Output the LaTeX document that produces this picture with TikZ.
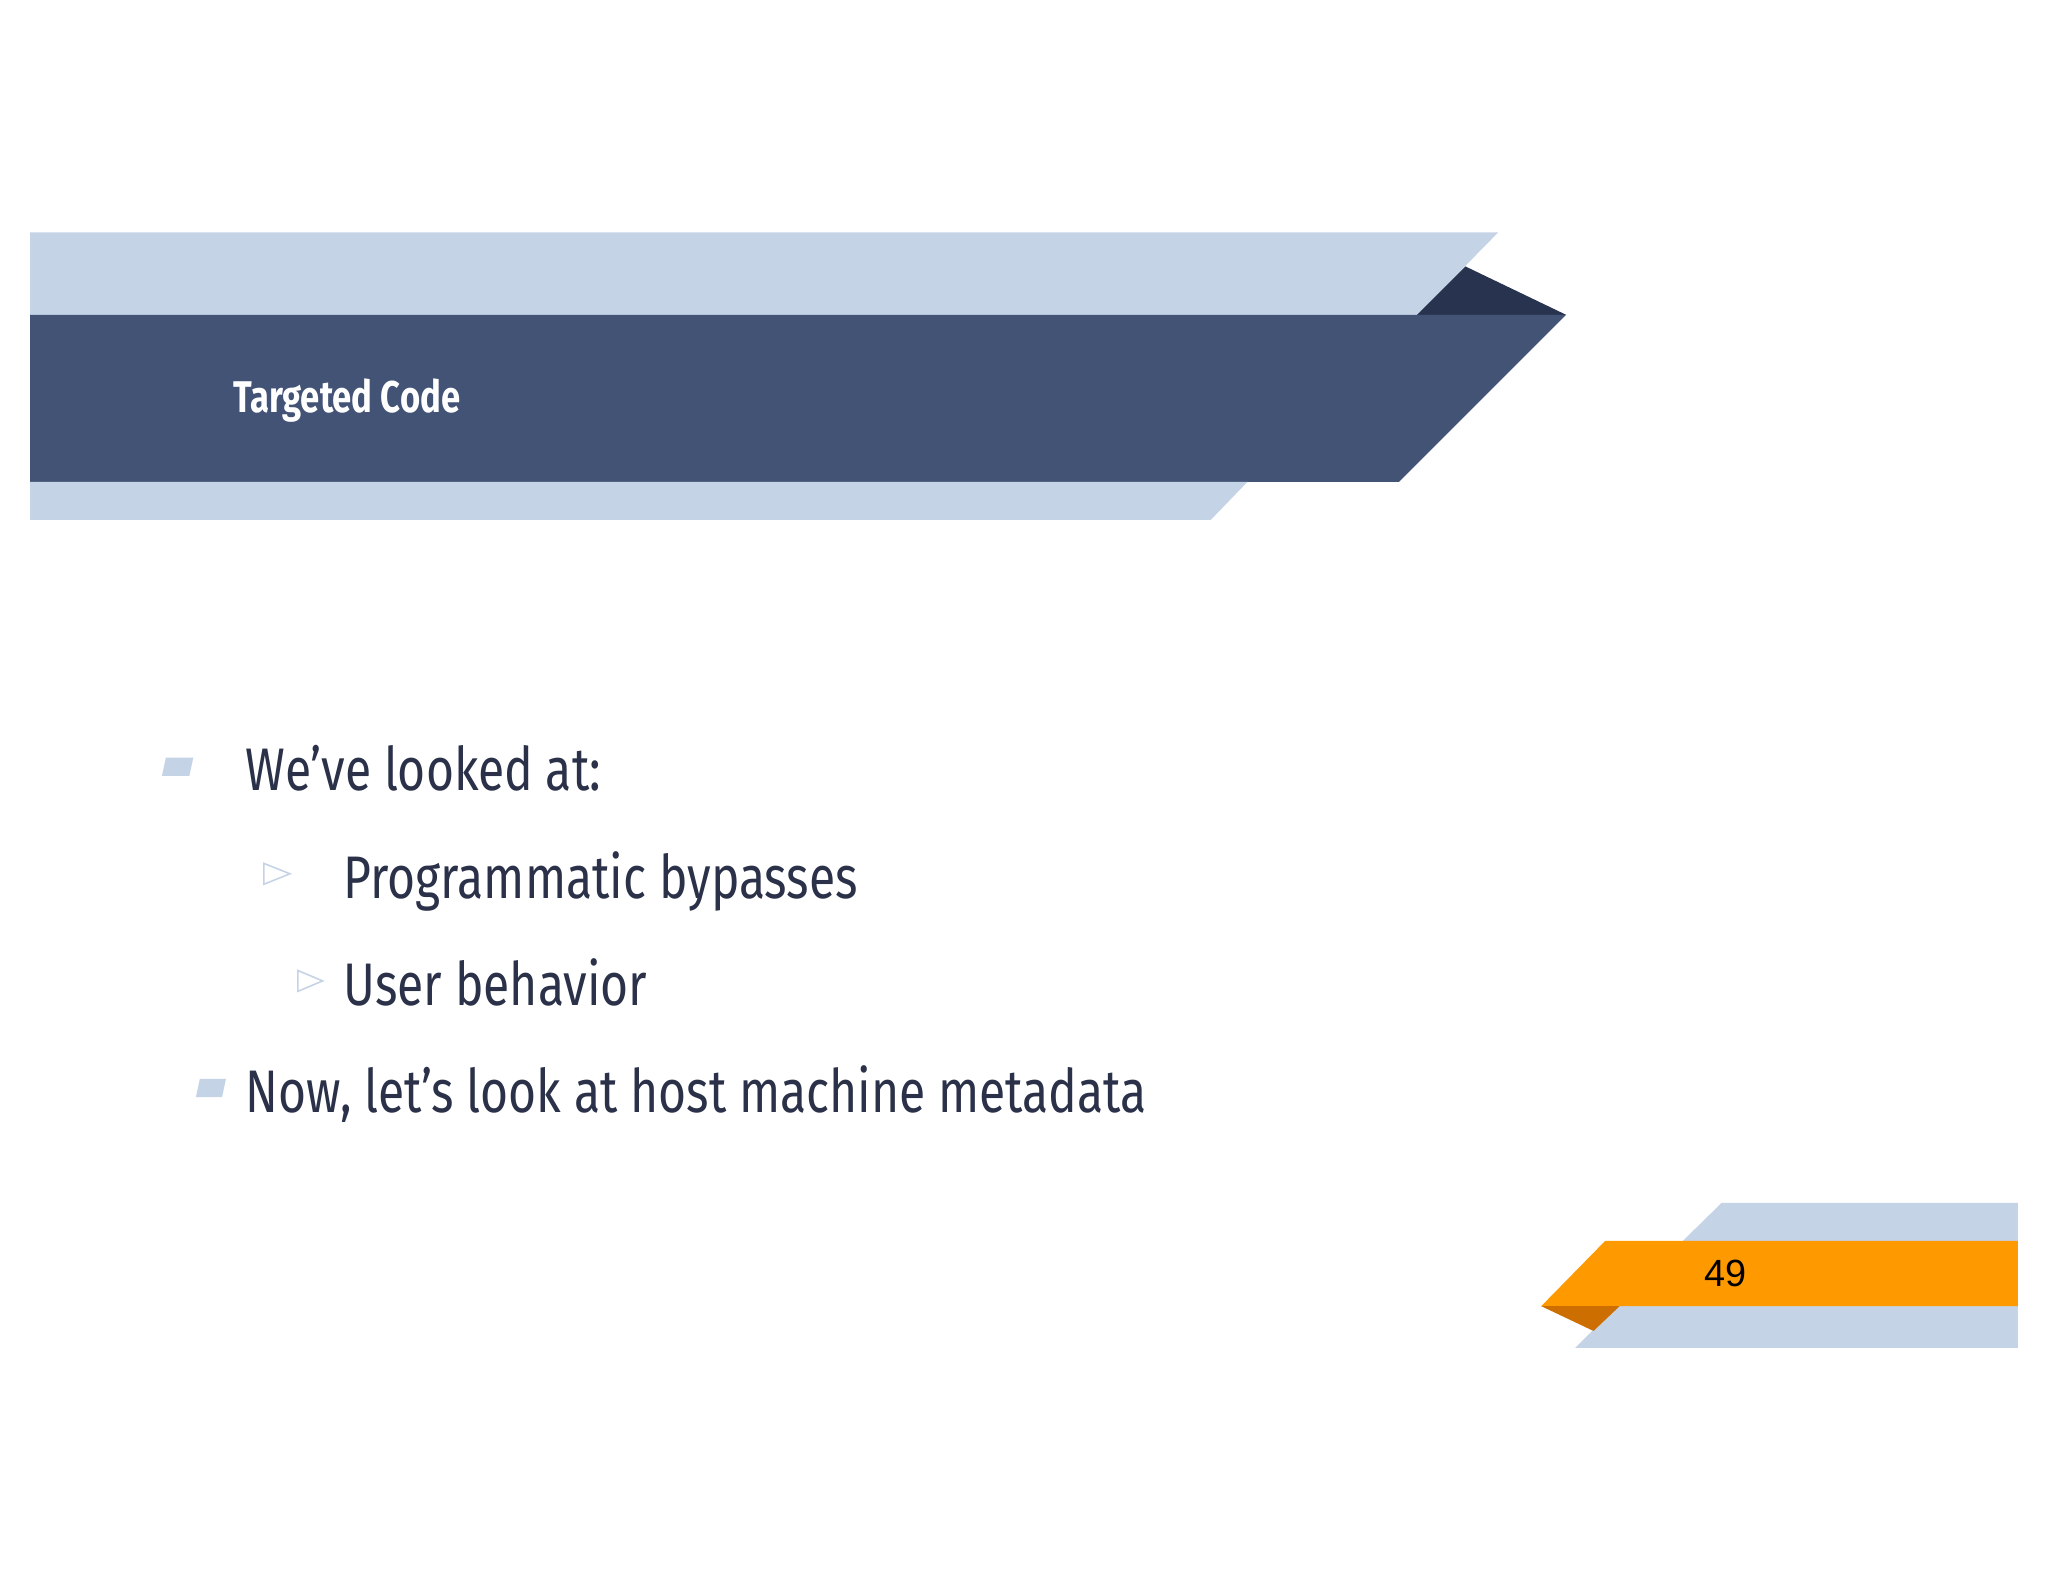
\documentclass[tikz,border=0pt]{standalone}
\usepackage{fontspec}
\setmainfont{Fira Sans}
\newfontfamily\condb[FakeStretch=0.78]{Fira Sans}
\newfontfamily\condl[FakeStretch=0.8]{Fira Sans}
\newfontfamily\num{Liberation Sans}
\definecolor{lightb}{HTML}{C5D3E6}
\definecolor{darkb}{HTML}{435376}
\definecolor{darker}{HTML}{283350}
\definecolor{txt}{HTML}{2A3148}
\definecolor{orng}{HTML}{FF9900}
\definecolor{dorng}{HTML}{CC6F00}
\begin{document}
\begin{tikzpicture}[x=1pt,y=-1pt,
  itm/.style={anchor=base west,inner sep=0pt,text=txt,font=\condl\fontsize{46}{50}\selectfont},
  tri/.style={draw=lightb,line width=1.2pt}]
\useasboundingbox (0,0) rectangle (1568,1211);
\fill[white] (0,0) rectangle (1568,1211);
% header
\fill[lightb] (23,178) -- (1147,178) -- (1085,241) -- (23,241) -- cycle;
\fill[darker] (1085,241) -- (1122,204) -- (1199,241) -- cycle;
\fill[darkb] (23,241) -- (1199,241) -- (1071,369) -- (23,369) -- cycle;
\fill[lightb] (23,369) -- (955,369) -- (927,398) -- (23,398) -- cycle;
\node[anchor=west,text=white,font=\condb\bfseries\fontsize{34}{40}\selectfont] (title) at (175,307) {Targeted Code};
% bullets
\fill[lightb] (127,580) -- (148,580) -- (145,594) -- (124,594) -- cycle;
\node[itm] (b1) at (188,605) {We’ve looked at:};
\draw[tri] (202,661) -- (222,669) -- (202,677) -- cycle;
\node[itm] (b2) at (263,688) {Programmatic bypasses};
\draw[tri] (228,743) -- (247,751) -- (228,759) -- cycle;
\node[itm] (b3) at (263,770) {User behavior};
\fill[lightb] (153,826) -- (173,826) -- (170,840) -- (150,840) -- cycle;
\node[itm] (b4) at (188,852) {Now, let’s look at host machine metadata};
% footer
\fill[lightb] (1318,921) -- (1545,921) -- (1545,1032) -- (1206,1032) -- (1260,978) -- cycle;
\fill[orng] (1229,950) -- (1545,950) -- (1545,1000) -- (1180,1000) -- cycle;
\fill[dorng] (1180,1000) -- (1240,1000) -- (1220,1019) -- cycle;
\node[font=\num\fontsize{29}{32}\selectfont] (pg) at (1321,975) {49};
\end{tikzpicture}
\end{document}
